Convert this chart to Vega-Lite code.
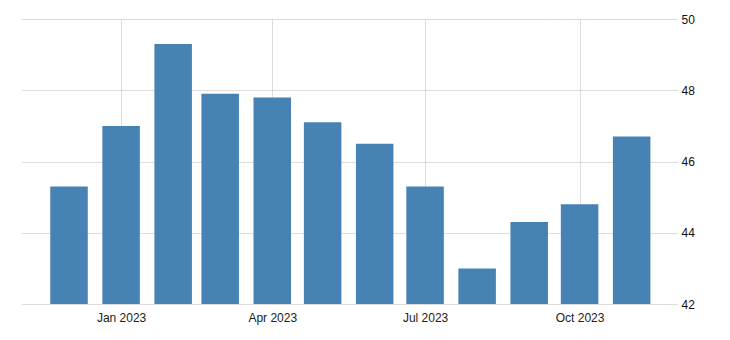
{
  "$schema": "https://vega.github.io/schema/vega-lite/v6.json",
  "width": 655,
  "height": 285,
  "autosize": {"type": "none"},
  "padding": {"left": 22, "top": 19, "right": 53, "bottom": 36},
  "background": "white",
  "data": {
    "values": [
      {"date": "2022-12-01", "value": 45.3},
      {"date": "2023-01-01", "value": 47.0},
      {"date": "2023-02-01", "value": 49.3},
      {"date": "2023-03-01", "value": 47.9},
      {"date": "2023-04-01", "value": 47.8},
      {"date": "2023-05-01", "value": 47.1},
      {"date": "2023-06-01", "value": 46.5},
      {"date": "2023-07-01", "value": 45.3},
      {"date": "2023-08-01", "value": 43.0},
      {"date": "2023-09-01", "value": 44.3},
      {"date": "2023-10-01", "value": 44.8},
      {"date": "2023-11-01", "value": 46.7}
    ]
  },
  "mark": {"type": "bar", "color": "#4682b4", "width": 37.5, "clip": true},
  "encoding": {
    "x": {
      "field": "date",
      "type": "temporal",
      "scale": {
        "type": "utc",
        "nice": false,
        "padding": 0,
        "domain": [
          {"year": 2022, "month": 11, "date": 3, "utc": true},
          {"year": 2023, "month": 11, "date": 28, "utc": true}
        ]
      },
      "axis": {
        "title": null,
        "format": "%b %Y",
        "tickCount": {"interval": "month", "step": 3},
        "domain": false,
        "ticks": false,
        "labelPadding": 8,
        "labelFont": "Liberation Sans",
        "labelFontSize": 12,
        "labelColor": "#222",
        "grid": true,
        "gridColor": "#bbbbbb",
        "gridDash": [1, 1],
        "gridWidth": 1
      }
    },
    "y": {
      "field": "value",
      "type": "quantitative",
      "scale": {"domain": [42, 50], "zero": false, "nice": false},
      "axis": {
        "orient": "right",
        "title": null,
        "values": [42, 44, 46, 48, 50],
        "domain": false,
        "ticks": false,
        "labelPadding": 4,
        "labelFont": "Liberation Sans",
        "labelFontSize": 12,
        "labelColor": "#111",
        "grid": true,
        "gridColor": "#bbbbbb",
        "gridDash": [1, 1],
        "gridWidth": 1
      }
    }
  },
  "config": {"view": {"stroke": null}}
}
